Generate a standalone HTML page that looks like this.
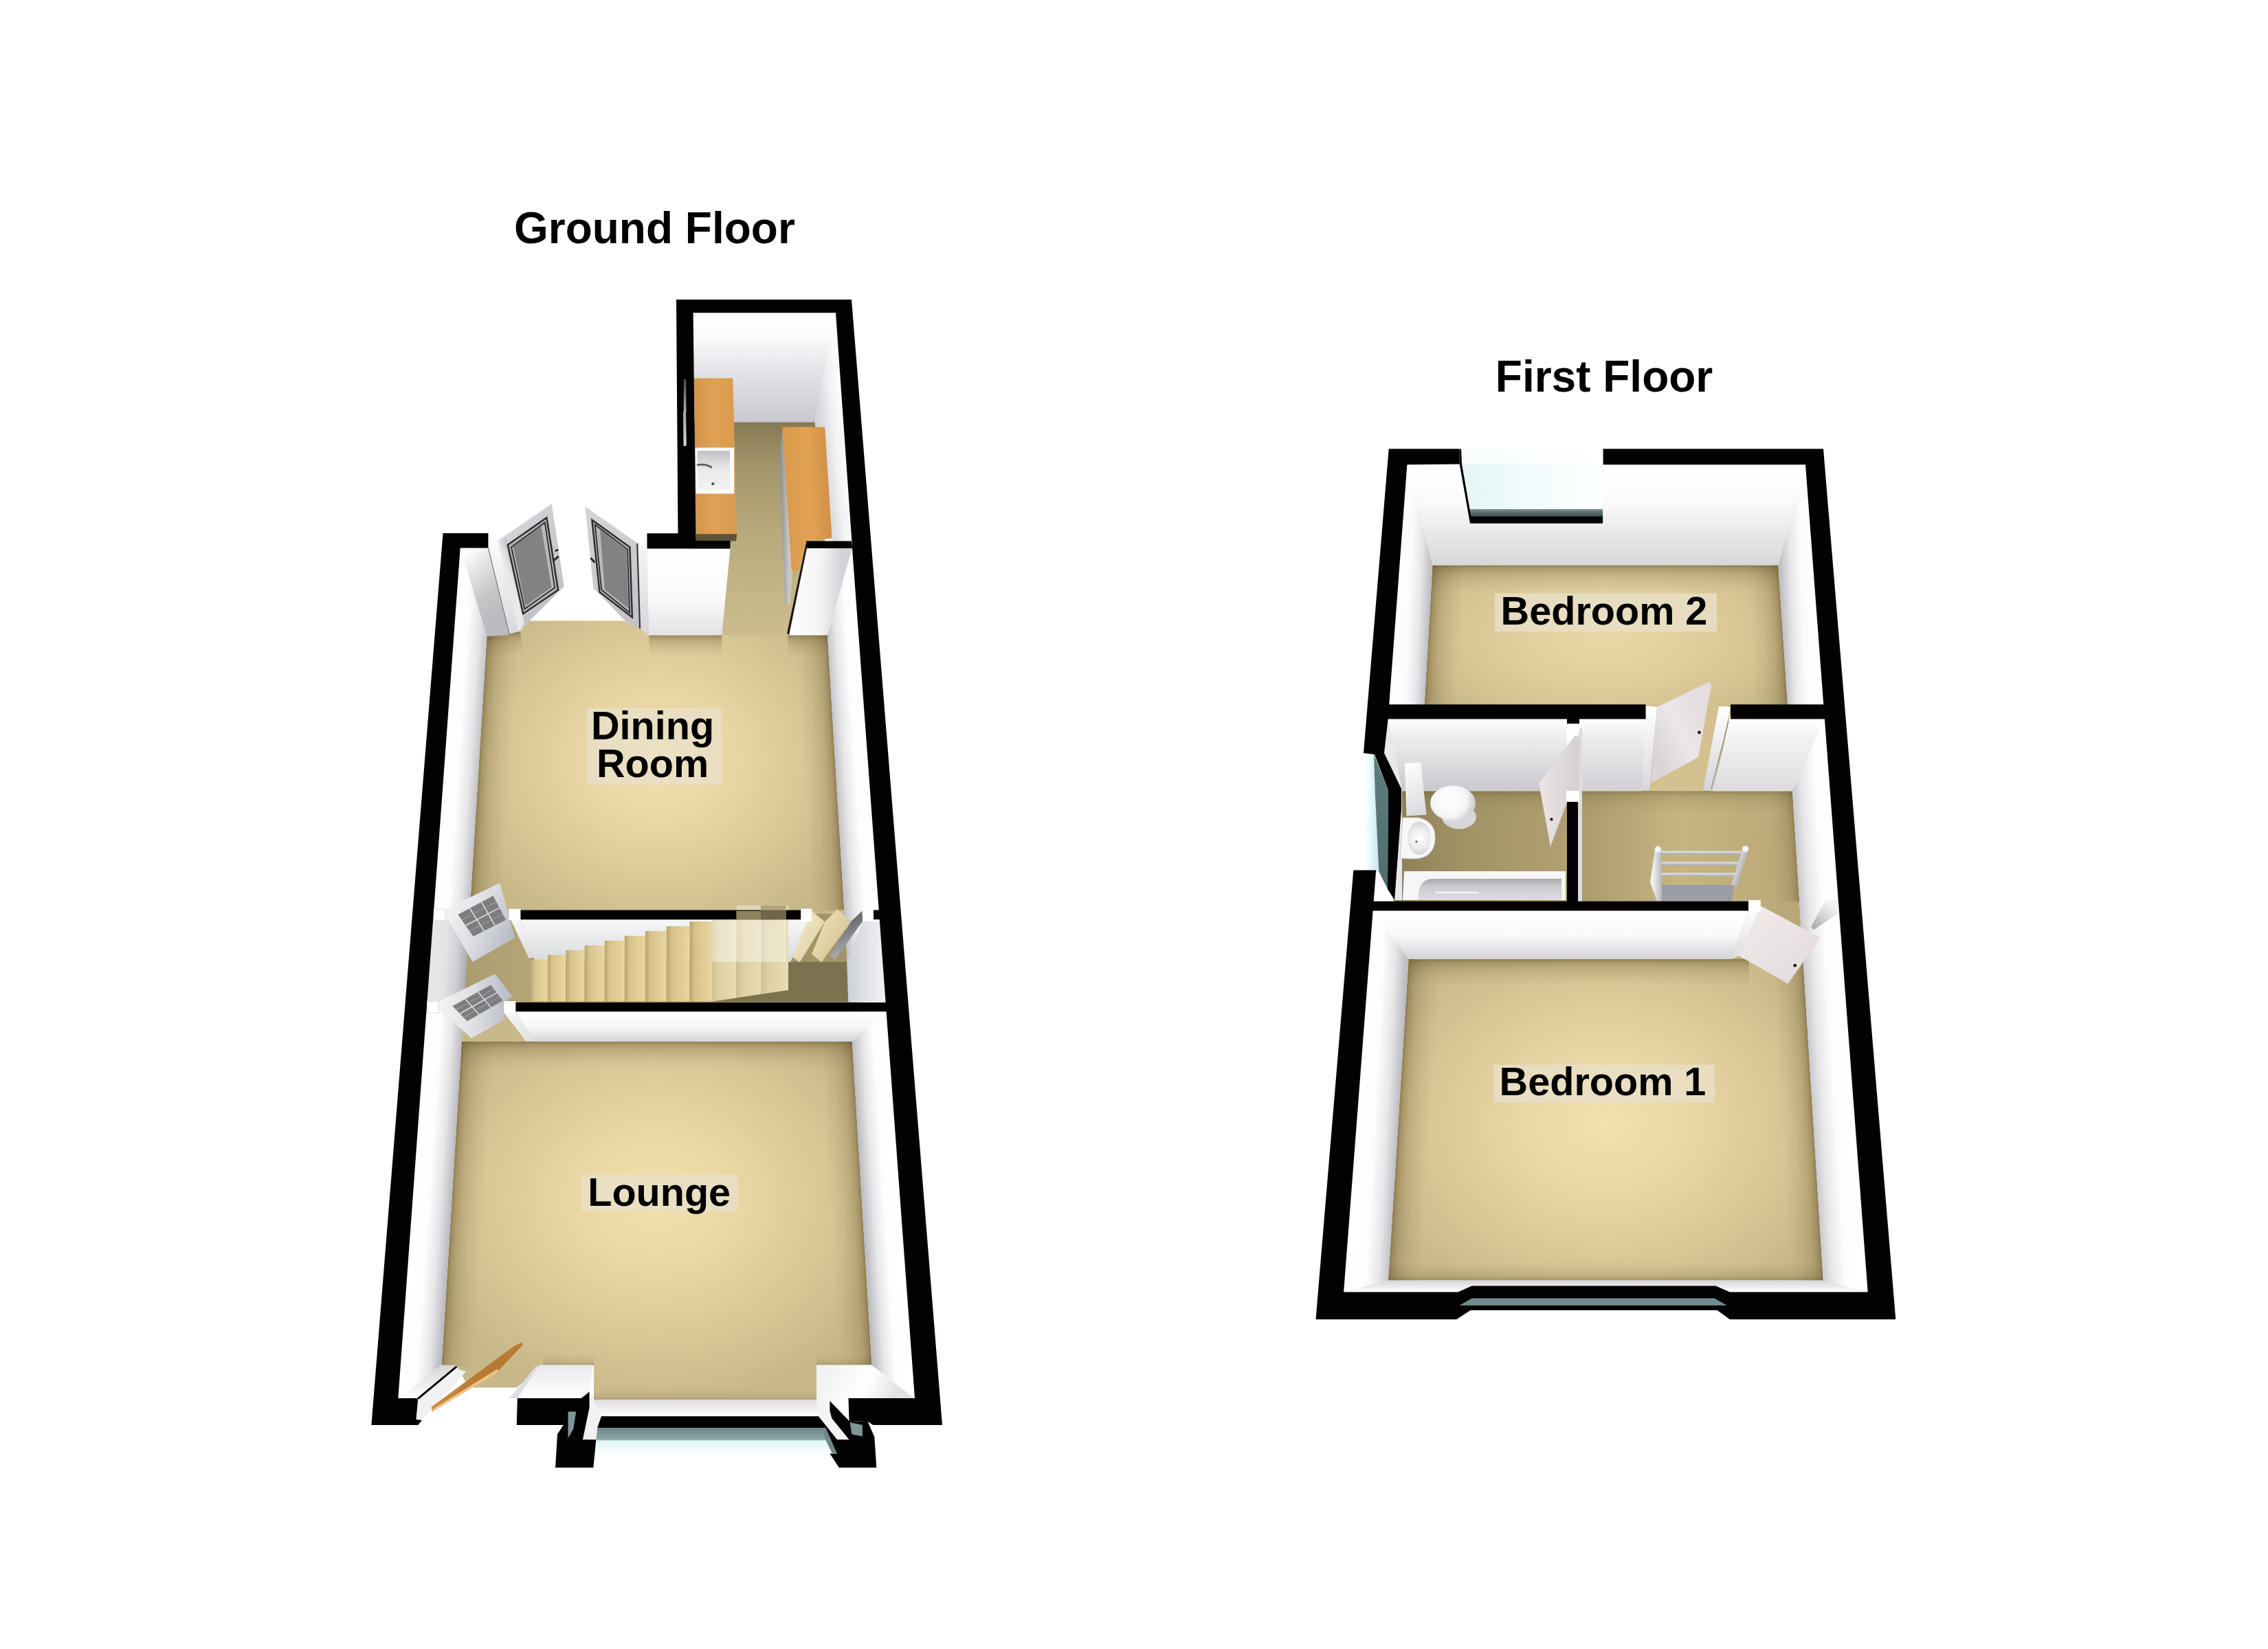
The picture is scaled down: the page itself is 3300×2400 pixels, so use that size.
<!DOCTYPE html>
<html><head><meta charset="utf-8"><title>Floor plan</title>
<style>
html,body{margin:0;padding:0;background:#fff;}
body{width:3300px;height:2400px;overflow:hidden;font-family:"Liberation Sans",sans-serif;}
svg{display:block;}
.b{font-family:"Liberation Sans",sans-serif;font-weight:bold;fill:#000;}
</style></head><body>
<svg width="3300" height="2400" viewBox="0 0 3300 2400">
<defs>
<radialGradient id="g1" gradientUnits="userSpaceOnUse" cx="958.0" cy="1105.0" r="340.0" gradientTransform="translate(958.0 1105.0) scale(0.920 0.800) translate(-958.0 -1105.0)"><stop offset="0" stop-color="#f3e0ae"/><stop offset="0.35" stop-color="#e9d6a4"/><stop offset="0.7" stop-color="#d9c695"/><stop offset="1" stop-color="#c8b788"/></radialGradient>
<radialGradient id="g2" gradientUnits="userSpaceOnUse" cx="955.0" cy="1745.0" r="400.0" gradientTransform="translate(955.0 1745.0) scale(0.900 0.750) translate(-955.0 -1745.0)"><stop offset="0" stop-color="#f3e0ae"/><stop offset="0.35" stop-color="#e9d6a4"/><stop offset="0.7" stop-color="#d9c695"/><stop offset="1" stop-color="#c8b788"/></radialGradient>
<linearGradient id="g3" gradientUnits="userSpaceOnUse" x1="1100.0" y1="614.0" x2="1100.0" y2="930.0"><stop offset="0" stop-color="#857a55"/><stop offset="0.2" stop-color="#a3956a"/><stop offset="0.5" stop-color="#b8a97c"/><stop offset="1" stop-color="#cdbd8e"/></linearGradient>
<linearGradient id="g4" gradientUnits="userSpaceOnUse" x1="708.4" y1="926.0" x2="756.3" y2="929.0"><stop offset="0" stop-color="#5a4a22" stop-opacity="0.550"/><stop offset="0.12" stop-color="#5a4a22" stop-opacity="0.341"/><stop offset="0.3" stop-color="#5a4a22" stop-opacity="0.198"/><stop offset="0.6" stop-color="#5a4a22" stop-opacity="0.083"/><stop offset="1" stop-color="#5a4a22" stop-opacity="0.000"/></linearGradient>
<linearGradient id="g5" gradientUnits="userSpaceOnUse" x1="1204.0" y1="924.5" x2="1156.1" y2="927.4"><stop offset="0" stop-color="#5a4a22" stop-opacity="0.550"/><stop offset="0.12" stop-color="#5a4a22" stop-opacity="0.341"/><stop offset="0.3" stop-color="#5a4a22" stop-opacity="0.198"/><stop offset="0.6" stop-color="#5a4a22" stop-opacity="0.083"/><stop offset="1" stop-color="#5a4a22" stop-opacity="0.000"/></linearGradient>
<linearGradient id="g6" gradientUnits="userSpaceOnUse" x1="708.4" y1="926.0" x2="713.0" y2="957.7"><stop offset="0" stop-color="#5a4a22" stop-opacity="0.550"/><stop offset="0.12" stop-color="#5a4a22" stop-opacity="0.341"/><stop offset="0.3" stop-color="#5a4a22" stop-opacity="0.198"/><stop offset="0.6" stop-color="#5a4a22" stop-opacity="0.083"/><stop offset="1" stop-color="#5a4a22" stop-opacity="0.000"/></linearGradient>
<linearGradient id="g7" gradientUnits="userSpaceOnUse" x1="944.5" y1="924.4" x2="944.5" y2="956.4"><stop offset="0" stop-color="#5a4a22" stop-opacity="0.550"/><stop offset="0.12" stop-color="#5a4a22" stop-opacity="0.341"/><stop offset="0.3" stop-color="#5a4a22" stop-opacity="0.198"/><stop offset="0.6" stop-color="#5a4a22" stop-opacity="0.083"/><stop offset="1" stop-color="#5a4a22" stop-opacity="0.000"/></linearGradient>
<linearGradient id="g8" gradientUnits="userSpaceOnUse" x1="1146.6" y1="924.5" x2="1146.6" y2="956.5"><stop offset="0" stop-color="#5a4a22" stop-opacity="0.550"/><stop offset="0.12" stop-color="#5a4a22" stop-opacity="0.341"/><stop offset="0.3" stop-color="#5a4a22" stop-opacity="0.198"/><stop offset="0.6" stop-color="#5a4a22" stop-opacity="0.083"/><stop offset="1" stop-color="#5a4a22" stop-opacity="0.000"/></linearGradient>
<linearGradient id="g9" gradientUnits="userSpaceOnUse" x1="671.8" y1="1516.0" x2="719.7" y2="1519.0"><stop offset="0" stop-color="#5a4a22" stop-opacity="0.550"/><stop offset="0.12" stop-color="#5a4a22" stop-opacity="0.341"/><stop offset="0.3" stop-color="#5a4a22" stop-opacity="0.198"/><stop offset="0.6" stop-color="#5a4a22" stop-opacity="0.083"/><stop offset="1" stop-color="#5a4a22" stop-opacity="0.000"/></linearGradient>
<linearGradient id="g10" gradientUnits="userSpaceOnUse" x1="1239.9" y1="1516.0" x2="1192.0" y2="1518.9"><stop offset="0" stop-color="#5a4a22" stop-opacity="0.550"/><stop offset="0.12" stop-color="#5a4a22" stop-opacity="0.341"/><stop offset="0.3" stop-color="#5a4a22" stop-opacity="0.198"/><stop offset="0.6" stop-color="#5a4a22" stop-opacity="0.083"/><stop offset="1" stop-color="#5a4a22" stop-opacity="0.000"/></linearGradient>
<linearGradient id="g11" gradientUnits="userSpaceOnUse" x1="670.6" y1="1516.0" x2="670.6" y2="1556.0"><stop offset="0" stop-color="#5a4a22" stop-opacity="0.550"/><stop offset="0.12" stop-color="#5a4a22" stop-opacity="0.341"/><stop offset="0.3" stop-color="#5a4a22" stop-opacity="0.198"/><stop offset="0.6" stop-color="#5a4a22" stop-opacity="0.083"/><stop offset="1" stop-color="#5a4a22" stop-opacity="0.000"/></linearGradient>
<linearGradient id="g12" gradientUnits="userSpaceOnUse" x1="790.0" y1="1987.0" x2="790.0" y2="1969.0"><stop offset="0" stop-color="#5a4a22" stop-opacity="0.300"/><stop offset="0.12" stop-color="#5a4a22" stop-opacity="0.186"/><stop offset="0.3" stop-color="#5a4a22" stop-opacity="0.108"/><stop offset="0.6" stop-color="#5a4a22" stop-opacity="0.045"/><stop offset="1" stop-color="#5a4a22" stop-opacity="0.000"/></linearGradient>
<linearGradient id="g13" gradientUnits="userSpaceOnUse" x1="1188.0" y1="1987.0" x2="1188.0" y2="1969.0"><stop offset="0" stop-color="#5a4a22" stop-opacity="0.300"/><stop offset="0.12" stop-color="#5a4a22" stop-opacity="0.186"/><stop offset="0.3" stop-color="#5a4a22" stop-opacity="0.108"/><stop offset="0.6" stop-color="#5a4a22" stop-opacity="0.045"/><stop offset="1" stop-color="#5a4a22" stop-opacity="0.000"/></linearGradient>
<linearGradient id="g14" gradientUnits="userSpaceOnUse" x1="864.0" y1="2038.0" x2="864.0" y2="2022.0"><stop offset="0" stop-color="#5a4a22" stop-opacity="0.300"/><stop offset="0.12" stop-color="#5a4a22" stop-opacity="0.186"/><stop offset="0.3" stop-color="#5a4a22" stop-opacity="0.108"/><stop offset="0.6" stop-color="#5a4a22" stop-opacity="0.045"/><stop offset="1" stop-color="#5a4a22" stop-opacity="0.000"/></linearGradient>
<linearGradient id="g15" gradientUnits="userSpaceOnUse" x1="1100.0" y1="455.0" x2="1100.0" y2="614.0"><stop offset="0" stop-color="#ffffff"/><stop offset="0.2" stop-color="#fcfcfc"/><stop offset="0.55" stop-color="#e2e2e7"/><stop offset="1" stop-color="#c8c9cf"/></linearGradient>
<linearGradient id="g16" gradientUnits="userSpaceOnUse" x1="1190.0" y1="600.0" x2="1232.0" y2="596.0"><stop offset="0" stop-color="#d4d5da"/><stop offset="0.5" stop-color="#f2f2f4"/><stop offset="1" stop-color="#ffffff"/></linearGradient>
<linearGradient id="g17" gradientUnits="userSpaceOnUse" x1="625.7" y1="1400.0" x2="679.0" y2="1403.6"><stop offset="0" stop-color="#ffffff"/><stop offset="0.4" stop-color="#fdfdfd"/><stop offset="0.72" stop-color="#e6e6e9"/><stop offset="1" stop-color="#bdbdc3"/></linearGradient>
<linearGradient id="g18" gradientUnits="userSpaceOnUse" x1="1284.3" y1="1400.0" x2="1232.9" y2="1403.4"><stop offset="0" stop-color="#ffffff"/><stop offset="0.4" stop-color="#fdfdfd"/><stop offset="0.72" stop-color="#e6e6e9"/><stop offset="1" stop-color="#bdbdc3"/></linearGradient>
<linearGradient id="g19" gradientUnits="userSpaceOnUse" x1="676.0" y1="806.0" x2="738.0" y2="880.0"><stop offset="0" stop-color="#ffffff"/><stop offset="0.3" stop-color="#e4e4e6"/><stop offset="0.7" stop-color="#c6c6c9"/><stop offset="1" stop-color="#bcbcc0"/></linearGradient>
<linearGradient id="g20" gradientUnits="userSpaceOnUse" x1="715.0" y1="790.0" x2="750.0" y2="920.0"><stop offset="0" stop-color="#fbfbfb"/><stop offset="1" stop-color="#d9d9dd"/></linearGradient>
<linearGradient id="g21" gradientUnits="userSpaceOnUse" x1="930.0" y1="800.0" x2="943.0" y2="920.0"><stop offset="0" stop-color="#f4f4f6"/><stop offset="1" stop-color="#d5d5da"/></linearGradient>
<linearGradient id="g22" gradientUnits="userSpaceOnUse" x1="1000.0" y1="798.0" x2="1000.0" y2="925.0"><stop offset="0" stop-color="#ffffff"/><stop offset="0.55" stop-color="#fbfbfc"/><stop offset="1" stop-color="#e2e2e6"/></linearGradient>
<linearGradient id="g23" gradientUnits="userSpaceOnUse" x1="1150.0" y1="860.0" x2="1225.0" y2="862.0"><stop offset="0" stop-color="#ffffff"/><stop offset="0.6" stop-color="#f3f3f5"/><stop offset="1" stop-color="#d2d2d7"/></linearGradient>
<linearGradient id="g24" gradientUnits="userSpaceOnUse" x1="1135.0" y1="700.0" x2="1148.0" y2="700.0"><stop offset="0" stop-color="#8d8d8f"/><stop offset="1" stop-color="#c9c8c6"/></linearGradient>
<linearGradient id="g25" gradientUnits="userSpaceOnUse" x1="1140.0" y1="700.0" x2="1210.0" y2="696.0"><stop offset="0" stop-color="#d99a4c"/><stop offset="0.5" stop-color="#e3a253"/><stop offset="1" stop-color="#cf8f45"/></linearGradient>
<linearGradient id="g26" gradientUnits="userSpaceOnUse" x1="1010.0" y1="700.0" x2="1070.0" y2="700.0"><stop offset="0" stop-color="#d3934a"/><stop offset="0.5" stop-color="#e2a255"/><stop offset="1" stop-color="#d89a4e"/></linearGradient>
<linearGradient id="g27" gradientUnits="userSpaceOnUse" x1="1015.0" y1="660.0" x2="1015.0" y2="715.0"><stop offset="0" stop-color="#c6c6c8"/><stop offset="0.4" stop-color="#e9e9ea"/><stop offset="1" stop-color="#f4f4f4"/></linearGradient>
<linearGradient id="g28" gradientUnits="userSpaceOnUse" x1="724.7" y1="786.7" x2="820.7" y2="853.4"><stop offset="0" stop-color="#d4d4d8"/><stop offset="1" stop-color="#c2c2c6"/></linearGradient>
<linearGradient id="g29" gradientUnits="userSpaceOnUse" x1="724.7" y1="786.7" x2="736.7" y2="782.7"><stop offset="0" stop-color="#e9e9ec"/><stop offset="1" stop-color="#bfbfc4"/></linearGradient>
<linearGradient id="g30" gradientUnits="userSpaceOnUse" x1="851.4" y1="737.3" x2="930.8" y2="916.1"><stop offset="0" stop-color="#d4d4d8"/><stop offset="1" stop-color="#c2c2c6"/></linearGradient>
<linearGradient id="g31" gradientUnits="userSpaceOnUse" x1="1232.0" y1="1420.0" x2="1288.0" y2="1420.0"><stop offset="0" stop-color="#cdd0d8"/><stop offset="1" stop-color="#f2f2f5"/></linearGradient>
<linearGradient id="g32" gradientUnits="userSpaceOnUse" x1="680.0" y1="1400.0" x2="772.0" y2="1400.0"><stop offset="0" stop-color="#ab9c70"/><stop offset="1" stop-color="#b5a678"/></linearGradient>
<linearGradient id="g33" gradientUnits="userSpaceOnUse" x1="900.0" y1="1338.0" x2="900.0" y2="1400.0"><stop offset="0" stop-color="#f7f7f8"/><stop offset="1" stop-color="#d9dade"/></linearGradient>
<linearGradient id="g34" gradientUnits="userSpaceOnUse" x1="771.4" y1="0.0" x2="797.0" y2="0.0"><stop offset="0" stop-color="#b9a470"/><stop offset="0.25" stop-color="#d8c48c"/><stop offset="1" stop-color="#e9d69e"/></linearGradient>
<linearGradient id="g35" gradientUnits="userSpaceOnUse" x1="797.0" y1="0.0" x2="823.4" y2="0.0"><stop offset="0" stop-color="#b9a470"/><stop offset="0.25" stop-color="#d8c48c"/><stop offset="1" stop-color="#e9d69e"/></linearGradient>
<linearGradient id="g36" gradientUnits="userSpaceOnUse" x1="823.4" y1="0.0" x2="850.7" y2="0.0"><stop offset="0" stop-color="#b9a470"/><stop offset="0.25" stop-color="#d8c48c"/><stop offset="1" stop-color="#e9d69e"/></linearGradient>
<linearGradient id="g37" gradientUnits="userSpaceOnUse" x1="850.7" y1="0.0" x2="879.8" y2="0.0"><stop offset="0" stop-color="#b9a470"/><stop offset="0.25" stop-color="#d8c48c"/><stop offset="1" stop-color="#e9d69e"/></linearGradient>
<linearGradient id="g38" gradientUnits="userSpaceOnUse" x1="879.8" y1="0.0" x2="908.9" y2="0.0"><stop offset="0" stop-color="#b9a470"/><stop offset="0.25" stop-color="#d8c48c"/><stop offset="1" stop-color="#e9d69e"/></linearGradient>
<linearGradient id="g39" gradientUnits="userSpaceOnUse" x1="908.9" y1="0.0" x2="938.9" y2="0.0"><stop offset="0" stop-color="#b9a470"/><stop offset="0.25" stop-color="#d8c48c"/><stop offset="1" stop-color="#e9d69e"/></linearGradient>
<linearGradient id="g40" gradientUnits="userSpaceOnUse" x1="938.9" y1="0.0" x2="969.8" y2="0.0"><stop offset="0" stop-color="#b9a470"/><stop offset="0.25" stop-color="#d8c48c"/><stop offset="1" stop-color="#e9d69e"/></linearGradient>
<linearGradient id="g41" gradientUnits="userSpaceOnUse" x1="969.8" y1="0.0" x2="1003.5" y2="0.0"><stop offset="0" stop-color="#b9a470"/><stop offset="0.25" stop-color="#d8c48c"/><stop offset="1" stop-color="#e9d69e"/></linearGradient>
<linearGradient id="g42" gradientUnits="userSpaceOnUse" x1="1003.5" y1="0.0" x2="1036.8" y2="0.0"><stop offset="0" stop-color="#b9a470"/><stop offset="0.25" stop-color="#d8c48c"/><stop offset="1" stop-color="#e9d69e"/></linearGradient>
<linearGradient id="g43" gradientUnits="userSpaceOnUse" x1="1036.8" y1="0.0" x2="1071.5" y2="0.0"><stop offset="0" stop-color="#cfc096"/><stop offset="0.25" stop-color="#ded0a4"/><stop offset="1" stop-color="#e8dcb4"/></linearGradient>
<linearGradient id="g44" gradientUnits="userSpaceOnUse" x1="1071.5" y1="0.0" x2="1107.7" y2="0.0"><stop offset="0" stop-color="#cfc096"/><stop offset="0.25" stop-color="#ded0a4"/><stop offset="1" stop-color="#e8dcb4"/></linearGradient>
<linearGradient id="g45" gradientUnits="userSpaceOnUse" x1="1107.7" y1="0.0" x2="1147.0" y2="0.0"><stop offset="0" stop-color="#cfc096"/><stop offset="0.25" stop-color="#ded0a4"/><stop offset="1" stop-color="#e8dcb4"/></linearGradient>
<linearGradient id="g46" gradientUnits="userSpaceOnUse" x1="1150.0" y1="1340.0" x2="1240.0" y2="1400.0"><stop offset="0" stop-color="#f1ead0"/><stop offset="0.5" stop-color="#e3d5a8"/><stop offset="1" stop-color="#c9b888"/></linearGradient>
<linearGradient id="g47" gradientUnits="userSpaceOnUse" x1="1240.0" y1="1340.0" x2="1262.0" y2="1400.0"><stop offset="0" stop-color="#6d6f72"/><stop offset="1" stop-color="#c7c9ce"/></linearGradient>
<linearGradient id="g48" gradientUnits="userSpaceOnUse" x1="1000.0" y1="1472.0" x2="1000.0" y2="1516.0"><stop offset="0" stop-color="#ffffff"/><stop offset="0.55" stop-color="#f6f6f7"/><stop offset="1" stop-color="#d4d4d9"/></linearGradient>
<linearGradient id="g49" gradientUnits="userSpaceOnUse" x1="740.0" y1="1330.0" x2="775.0" y2="1390.0"><stop offset="0" stop-color="#ffffff"/><stop offset="1" stop-color="#dcdce0"/></linearGradient>
<linearGradient id="g50" gradientUnits="userSpaceOnUse" x1="735.0" y1="1460.0" x2="775.0" y2="1515.0"><stop offset="0" stop-color="#ffffff"/><stop offset="1" stop-color="#dedee2"/></linearGradient>
<linearGradient id="g51" gradientUnits="userSpaceOnUse" x1="647.9" y1="1323.2" x2="749.3" y2="1364.7"><stop offset="0" stop-color="#f4f4f6"/><stop offset="0.5" stop-color="#dcdde2"/><stop offset="1" stop-color="#b4b9c4"/></linearGradient>
<linearGradient id="g52" gradientUnits="userSpaceOnUse" x1="639.1" y1="1457.2" x2="745.8" y2="1450.2"><stop offset="0" stop-color="#f4f4f6"/><stop offset="0.5" stop-color="#dcdde2"/><stop offset="1" stop-color="#b4b9c4"/></linearGradient>
<linearGradient id="g53" gradientUnits="userSpaceOnUse" x1="600.0" y1="1987.0" x2="600.0" y2="2035.0"><stop offset="0" stop-color="#d6d6da"/><stop offset="1" stop-color="#ffffff"/></linearGradient>
<linearGradient id="g54" gradientUnits="userSpaceOnUse" x1="800.0" y1="1987.0" x2="800.0" y2="2035.0"><stop offset="0" stop-color="#e9e9ec"/><stop offset="1" stop-color="#ffffff"/></linearGradient>
<linearGradient id="g55" gradientUnits="userSpaceOnUse" x1="1000.0" y1="2037.0" x2="1000.0" y2="2061.0"><stop offset="0" stop-color="#dcdce0"/><stop offset="1" stop-color="#ffffff"/></linearGradient>
<linearGradient id="g56" gradientUnits="userSpaceOnUse" x1="1200.0" y1="1987.0" x2="1300.0" y2="2035.0"><stop offset="0" stop-color="#f1f1f3"/><stop offset="0.6" stop-color="#ffffff"/><stop offset="1" stop-color="#e3e3e6"/></linearGradient>
<linearGradient id="g57" gradientUnits="userSpaceOnUse" x1="1000.0" y1="2078.0" x2="1000.0" y2="2116.0"><stop offset="0" stop-color="#6f8788"/><stop offset="0.45" stop-color="#8ba7a8"/><stop offset="0.5" stop-color="#dff5f5"/><stop offset="1" stop-color="#ffffff"/></linearGradient>
<linearGradient id="g58" gradientUnits="userSpaceOnUse" x1="995.0" y1="500.0" x2="995.0" y2="650.0"><stop offset="0" stop-color="#3a3a3c"/><stop offset="1" stop-color="#d9dadc"/></linearGradient>
<linearGradient id="g59" gradientUnits="userSpaceOnUse" x1="995.0" y1="540.0" x2="995.0" y2="610.0"><stop offset="0" stop-color="#2a2a2c"/><stop offset="1" stop-color="#c9cacc"/></linearGradient>
<linearGradient id="g60" gradientUnits="userSpaceOnUse" x1="640.0" y1="2040.0" x2="700.0" y2="2010.0"><stop offset="0" stop-color="#c98a3e"/><stop offset="1" stop-color="#b87a33"/></linearGradient>
<radialGradient id="g61" gradientUnits="userSpaceOnUse" cx="2336.0" cy="925.0" r="330.0" gradientTransform="translate(2336.0 925.0) scale(1.000 0.500) translate(-2336.0 -925.0)"><stop offset="0" stop-color="#e9d7a6"/><stop offset="0.4" stop-color="#e0ce9d"/><stop offset="0.75" stop-color="#d3c190"/><stop offset="1" stop-color="#c2b183"/></radialGradient>
<radialGradient id="g62" gradientUnits="userSpaceOnUse" cx="2336.0" cy="1635.0" r="410.0" gradientTransform="translate(2336.0 1635.0) scale(0.900 0.720) translate(-2336.0 -1635.0)"><stop offset="0" stop-color="#f3e0ae"/><stop offset="0.35" stop-color="#e9d6a4"/><stop offset="0.7" stop-color="#d9c695"/><stop offset="1" stop-color="#c8b788"/></radialGradient>
<linearGradient id="g63" gradientUnits="userSpaceOnUse" x1="2040.0" y1="1230.0" x2="2280.0" y2="1230.0"><stop offset="0" stop-color="#8f8157"/><stop offset="0.4" stop-color="#a39468"/><stop offset="1" stop-color="#b09f70"/></linearGradient>
<linearGradient id="g64" gradientUnits="userSpaceOnUse" x1="2300.0" y1="1230.0" x2="2615.0" y2="1230.0"><stop offset="0" stop-color="#ab9b6c"/><stop offset="0.45" stop-color="#c6b481"/><stop offset="1" stop-color="#b9a877"/></linearGradient>
<linearGradient id="g65" gradientUnits="userSpaceOnUse" x1="2084.4" y1="822.6" x2="2084.4" y2="862.6"><stop offset="0" stop-color="#5a4a22" stop-opacity="0.550"/><stop offset="0.12" stop-color="#5a4a22" stop-opacity="0.341"/><stop offset="0.3" stop-color="#5a4a22" stop-opacity="0.198"/><stop offset="0.6" stop-color="#5a4a22" stop-opacity="0.083"/><stop offset="1" stop-color="#5a4a22" stop-opacity="0.000"/></linearGradient>
<linearGradient id="g66" gradientUnits="userSpaceOnUse" x1="2084.4" y1="822.6" x2="2132.3" y2="825.4"><stop offset="0" stop-color="#5a4a22" stop-opacity="0.550"/><stop offset="0.12" stop-color="#5a4a22" stop-opacity="0.341"/><stop offset="0.3" stop-color="#5a4a22" stop-opacity="0.198"/><stop offset="0.6" stop-color="#5a4a22" stop-opacity="0.083"/><stop offset="1" stop-color="#5a4a22" stop-opacity="0.000"/></linearGradient>
<linearGradient id="g67" gradientUnits="userSpaceOnUse" x1="2587.4" y1="822.6" x2="2539.5" y2="825.8"><stop offset="0" stop-color="#5a4a22" stop-opacity="0.550"/><stop offset="0.12" stop-color="#5a4a22" stop-opacity="0.341"/><stop offset="0.3" stop-color="#5a4a22" stop-opacity="0.198"/><stop offset="0.6" stop-color="#5a4a22" stop-opacity="0.083"/><stop offset="1" stop-color="#5a4a22" stop-opacity="0.000"/></linearGradient>
<linearGradient id="g68" gradientUnits="userSpaceOnUse" x1="2049.5" y1="1396.0" x2="2049.5" y2="1436.0"><stop offset="0" stop-color="#5a4a22" stop-opacity="0.550"/><stop offset="0.12" stop-color="#5a4a22" stop-opacity="0.341"/><stop offset="0.3" stop-color="#5a4a22" stop-opacity="0.198"/><stop offset="0.6" stop-color="#5a4a22" stop-opacity="0.083"/><stop offset="1" stop-color="#5a4a22" stop-opacity="0.000"/></linearGradient>
<linearGradient id="g69" gradientUnits="userSpaceOnUse" x1="2049.5" y1="1396.0" x2="2097.4" y2="1399.0"><stop offset="0" stop-color="#5a4a22" stop-opacity="0.550"/><stop offset="0.12" stop-color="#5a4a22" stop-opacity="0.341"/><stop offset="0.3" stop-color="#5a4a22" stop-opacity="0.198"/><stop offset="0.6" stop-color="#5a4a22" stop-opacity="0.083"/><stop offset="1" stop-color="#5a4a22" stop-opacity="0.000"/></linearGradient>
<linearGradient id="g70" gradientUnits="userSpaceOnUse" x1="2623.7" y1="1400.0" x2="2575.8" y2="1403.0"><stop offset="0" stop-color="#5a4a22" stop-opacity="0.550"/><stop offset="0.12" stop-color="#5a4a22" stop-opacity="0.341"/><stop offset="0.3" stop-color="#5a4a22" stop-opacity="0.198"/><stop offset="0.6" stop-color="#5a4a22" stop-opacity="0.083"/><stop offset="1" stop-color="#5a4a22" stop-opacity="0.000"/></linearGradient>
<linearGradient id="g71" gradientUnits="userSpaceOnUse" x1="2020.0" y1="1863.4" x2="2020.0" y2="1835.4"><stop offset="0" stop-color="#5a4a22" stop-opacity="0.400"/><stop offset="0.12" stop-color="#5a4a22" stop-opacity="0.248"/><stop offset="0.3" stop-color="#5a4a22" stop-opacity="0.144"/><stop offset="0.6" stop-color="#5a4a22" stop-opacity="0.060"/><stop offset="1" stop-color="#5a4a22" stop-opacity="0.000"/></linearGradient>
<linearGradient id="g72" gradientUnits="userSpaceOnUse" x1="2301.0" y1="1151.5" x2="2301.0" y2="1183.5"><stop offset="0" stop-color="#5a4a22" stop-opacity="0.400"/><stop offset="0.12" stop-color="#5a4a22" stop-opacity="0.248"/><stop offset="0.3" stop-color="#5a4a22" stop-opacity="0.144"/><stop offset="0.6" stop-color="#5a4a22" stop-opacity="0.060"/><stop offset="1" stop-color="#5a4a22" stop-opacity="0.000"/></linearGradient>
<linearGradient id="g73" gradientUnits="userSpaceOnUse" x1="2608.0" y1="1151.0" x2="2572.1" y2="1153.3"><stop offset="0" stop-color="#5a4a22" stop-opacity="0.450"/><stop offset="0.12" stop-color="#5a4a22" stop-opacity="0.279"/><stop offset="0.3" stop-color="#5a4a22" stop-opacity="0.162"/><stop offset="0.6" stop-color="#5a4a22" stop-opacity="0.068"/><stop offset="1" stop-color="#5a4a22" stop-opacity="0.000"/></linearGradient>
<linearGradient id="g74" gradientUnits="userSpaceOnUse" x1="2040.0" y1="1151.5" x2="2040.0" y2="1183.5"><stop offset="0" stop-color="#5a4a22" stop-opacity="0.400"/><stop offset="0.12" stop-color="#5a4a22" stop-opacity="0.248"/><stop offset="0.3" stop-color="#5a4a22" stop-opacity="0.144"/><stop offset="0.6" stop-color="#5a4a22" stop-opacity="0.060"/><stop offset="1" stop-color="#5a4a22" stop-opacity="0.000"/></linearGradient>
<linearGradient id="g75" gradientUnits="userSpaceOnUse" x1="2300.0" y1="676.0" x2="2300.0" y2="823.0"><stop offset="0" stop-color="#ffffff"/><stop offset="0.35" stop-color="#fbfbfb"/><stop offset="1" stop-color="#d7d7db"/></linearGradient>
<linearGradient id="g76" gradientUnits="userSpaceOnUse" x1="2032.0" y1="860.0" x2="2080.0" y2="862.0"><stop offset="0" stop-color="#ffffff"/><stop offset="0.4" stop-color="#fbfbfb"/><stop offset="0.72" stop-color="#e6e6e9"/><stop offset="1" stop-color="#bfbfc5"/></linearGradient>
<linearGradient id="g77" gradientUnits="userSpaceOnUse" x1="2642.0" y1="860.0" x2="2592.0" y2="862.0"><stop offset="0" stop-color="#ffffff"/><stop offset="0.4" stop-color="#fbfbfb"/><stop offset="0.72" stop-color="#e6e6e9"/><stop offset="1" stop-color="#bfbfc5"/></linearGradient>
<linearGradient id="g78" gradientUnits="userSpaceOnUse" x1="2125.0" y1="700.0" x2="2330.0" y2="700.0"><stop offset="0" stop-color="#e4f6f6"/><stop offset="0.45" stop-color="#f0fbfb"/><stop offset="1" stop-color="#fdffff"/></linearGradient>
<linearGradient id="g79" gradientUnits="userSpaceOnUse" x1="2200.0" y1="653.0" x2="2200.0" y2="675.0"><stop offset="0" stop-color="#ffffff"/><stop offset="1" stop-color="#ffffff"/></linearGradient>
<linearGradient id="g80" gradientUnits="userSpaceOnUse" x1="2200.0" y1="741.0" x2="2200.0" y2="752.0"><stop offset="0" stop-color="#7d9192"/><stop offset="0.5" stop-color="#586b6c"/><stop offset="1" stop-color="#3c4a4a"/></linearGradient>
<linearGradient id="g81" gradientUnits="userSpaceOnUse" x1="2150.0" y1="1046.0" x2="2150.0" y2="1151.0"><stop offset="0" stop-color="#ffffff"/><stop offset="0.2" stop-color="#f1f1f3"/><stop offset="1" stop-color="#c9c9ce"/></linearGradient>
<linearGradient id="g82" gradientUnits="userSpaceOnUse" x1="2340.0" y1="1046.0" x2="2340.0" y2="1151.0"><stop offset="0" stop-color="#ffffff"/><stop offset="0.2" stop-color="#f0f0f2"/><stop offset="1" stop-color="#d0d0d5"/></linearGradient>
<linearGradient id="g83" gradientUnits="userSpaceOnUse" x1="2560.0" y1="1046.0" x2="2560.0" y2="1151.0"><stop offset="0" stop-color="#ffffff"/><stop offset="0.25" stop-color="#f3f3f5"/><stop offset="1" stop-color="#dcdce0"/></linearGradient>
<linearGradient id="g84" gradientUnits="userSpaceOnUse" x1="2690.0" y1="1500.0" x2="2625.0" y2="1504.0"><stop offset="0" stop-color="#ffffff"/><stop offset="0.4" stop-color="#fdfdfd"/><stop offset="0.72" stop-color="#e6e6e9"/><stop offset="1" stop-color="#bdbdc3"/></linearGradient>
<linearGradient id="g85" gradientUnits="userSpaceOnUse" x1="2395.0" y1="1030.0" x2="2390.0" y2="1150.0"><stop offset="0" stop-color="#ffffff"/><stop offset="1" stop-color="#d8d8dc"/></linearGradient>
<linearGradient id="g86" gradientUnits="userSpaceOnUse" x1="2505.0" y1="1030.0" x2="2480.0" y2="1150.0"><stop offset="0" stop-color="#ffffff"/><stop offset="1" stop-color="#d4d4d9"/></linearGradient>
<linearGradient id="g87" gradientUnits="userSpaceOnUse" x1="2250.0" y1="1325.0" x2="2250.0" y2="1396.0"><stop offset="0" stop-color="#ffffff"/><stop offset="0.5" stop-color="#fafafa"/><stop offset="1" stop-color="#d3d3d8"/></linearGradient>
<linearGradient id="g88" gradientUnits="userSpaceOnUse" x1="1978.0" y1="1600.0" x2="2036.0" y2="1603.0"><stop offset="0" stop-color="#ffffff"/><stop offset="0.4" stop-color="#fdfdfd"/><stop offset="0.72" stop-color="#e6e6e9"/><stop offset="1" stop-color="#bdbdc3"/></linearGradient>
<linearGradient id="g89" gradientUnits="userSpaceOnUse" x1="2300.0" y1="1863.0" x2="2300.0" y2="1881.0"><stop offset="0" stop-color="#d4d4d8"/><stop offset="1" stop-color="#ffffff"/></linearGradient>
<linearGradient id="g90" gradientUnits="userSpaceOnUse" x1="2545.0" y1="1320.0" x2="2525.0" y2="1395.0"><stop offset="0" stop-color="#ffffff"/><stop offset="1" stop-color="#dedee2"/></linearGradient>
<linearGradient id="g91" gradientUnits="userSpaceOnUse" x1="2668.0" y1="1318.0" x2="2640.0" y2="1352.0"><stop offset="0" stop-color="#f4f4f5"/><stop offset="0.45" stop-color="#d9d9dc"/><stop offset="1" stop-color="#a9a9ae"/></linearGradient>
<linearGradient id="g92" gradientUnits="userSpaceOnUse" x1="2070.0" y1="1279.0" x2="2070.0" y2="1310.0"><stop offset="0" stop-color="#a9a9ad"/><stop offset="0.35" stop-color="#c9c9cd"/><stop offset="1" stop-color="#dededf"/></linearGradient>
<linearGradient id="g93" gradientUnits="userSpaceOnUse" x1="2045.0" y1="1110.0" x2="2075.0" y2="1185.0"><stop offset="0" stop-color="#ffffff"/><stop offset="1" stop-color="#d9d9dd"/></linearGradient>
<radialGradient id="g94" gradientUnits="userSpaceOnUse" cx="2109.0" cy="1164.0" r="36.0"><stop offset="0" stop-color="#ffffff"/><stop offset="0.7" stop-color="#f5f5f6"/><stop offset="1" stop-color="#cfcfd3"/></radialGradient>
<radialGradient id="g95" gradientUnits="userSpaceOnUse" cx="2065.0" cy="1220.0" r="24.0"><stop offset="0" stop-color="#ffffff"/><stop offset="0.6" stop-color="#ececee"/><stop offset="1" stop-color="#d3d3d7"/></radialGradient>
<linearGradient id="g96" gradientUnits="userSpaceOnUse" x1="2245.0" y1="1150.0" x2="2295.0" y2="1150.0"><stop offset="0" stop-color="#e9e3e4"/><stop offset="1" stop-color="#d6d0d2"/></linearGradient>
<linearGradient id="g97" gradientUnits="userSpaceOnUse" x1="2400.0" y1="1080.0" x2="2480.0" y2="1040.0"><stop offset="0" stop-color="#d9d4d6"/><stop offset="0.5" stop-color="#ece6e8"/><stop offset="1" stop-color="#e4dee0"/></linearGradient>
<linearGradient id="g98" gradientUnits="userSpaceOnUse" x1="2540.0" y1="1330.0" x2="2620.0" y2="1420.0"><stop offset="0" stop-color="#f1ebec"/><stop offset="1" stop-color="#e4dcde"/></linearGradient>
<linearGradient id="g99" gradientUnits="userSpaceOnUse" x1="2400.0" y1="1238.6" x2="2400.0" y2="1243.4"><stop offset="0" stop-color="#e6e7ea"/><stop offset="1" stop-color="#a9acb2"/></linearGradient>
<linearGradient id="g100" gradientUnits="userSpaceOnUse" x1="2400.0" y1="1254.6" x2="2400.0" y2="1259.4"><stop offset="0" stop-color="#e6e7ea"/><stop offset="1" stop-color="#a9acb2"/></linearGradient>
<linearGradient id="g101" gradientUnits="userSpaceOnUse" x1="2400.0" y1="1270.6" x2="2400.0" y2="1275.4"><stop offset="0" stop-color="#e6e7ea"/><stop offset="1" stop-color="#a9acb2"/></linearGradient>
<linearGradient id="g102" gradientUnits="userSpaceOnUse" x1="2405.0" y1="1300.0" x2="2418.0" y2="1300.0"><stop offset="0" stop-color="#f1f1f3"/><stop offset="1" stop-color="#b5b7bc"/></linearGradient>
<linearGradient id="g103" gradientUnits="userSpaceOnUse" x1="2525.0" y1="1260.0" x2="2540.0" y2="1265.0"><stop offset="0" stop-color="#dcdde1"/><stop offset="1" stop-color="#a5a8ae"/></linearGradient>
<linearGradient id="g104" gradientUnits="userSpaceOnUse" x1="1984.0" y1="1180.0" x2="2010.0" y2="1180.0"><stop offset="0" stop-color="#ffffff"/><stop offset="0.35" stop-color="#eafafa"/><stop offset="1" stop-color="#b9e2e2"/></linearGradient>
<linearGradient id="g105" gradientUnits="userSpaceOnUse" x1="2005.0" y1="1100.0" x2="2015.0" y2="1290.0"><stop offset="0" stop-color="#5f7d7f"/><stop offset="1" stop-color="#4f6c6e"/></linearGradient>
</defs>
<rect x="0" y="0" width="3300" height="2400" fill="#ffffff"/>
<polygon points="1006.0,614.0 1186.0,614.0 1212.0,930.0 1036.0,930.0 1062.0,800.0 1008.0,800.0" fill="url(#g3)" />
<polygon points="708.4,926.0 757.0,918.4 768.9,903.5 907.8,903.5 931.6,915.4 944.5,924.4 1204.0,924.5 1228.6,1330.0 683.3,1330.0" fill="url(#g1)" />
<polygon points="683.3,1330.0 1228.6,1330.0 1236.6,1462.0 675.1,1462.0" fill="#a39468" />
<polygon points="674.6,1470.0 1237.1,1470.0 1268.5,1987.0 1188.0,1987.0 1188.0,2040.0 864.0,2040.0 864.0,1987.0 790.0,1987.0 752.0,2019.5 682.0,2019.5 664.0,1987.0 642.5,1987.0" fill="url(#g2)" />
<polygon points="708.4,926.0 683.7,1324.0 731.6,1327.0 756.3,929.0" fill="url(#g4)"/>
<polygon points="1204.0,924.5 1228.3,1324.0 1180.3,1326.9 1156.1,927.4" fill="url(#g5)"/>
<polygon points="708.4,926.0 757.0,919.0 761.6,950.7 713.0,957.7" fill="url(#g6)"/>
<polygon points="944.5,924.4 1050.3,924.4 1050.3,956.4 944.5,956.4" fill="url(#g7)"/>
<polygon points="1146.6,924.5 1204.0,924.5 1204.0,956.5 1146.6,956.5" fill="url(#g8)"/>
<polygon points="671.8,1516.0 642.5,1987.0 690.4,1990.0 719.7,1519.0" fill="url(#g9)"/>
<polygon points="1239.9,1516.0 1268.5,1987.0 1220.6,1989.9 1192.0,1518.9" fill="url(#g10)"/>
<polygon points="670.6,1516.0 1239.8,1516.0 1239.8,1556.0 670.6,1556.0" fill="url(#g11)"/>
<polygon points="790.0,1987.0 864.0,1987.0 864.0,1969.0 790.0,1969.0" fill="url(#g12)"/>
<polygon points="1188.0,1987.0 1268.5,1987.0 1268.5,1969.0 1188.0,1969.0" fill="url(#g13)"/>
<polygon points="864.0,2038.0 1188.0,2038.0 1188.0,2022.0 864.0,2022.0" fill="url(#g14)"/>
<polygon points="1008.6,455.2 1216.0,455.2 1185.5,614.5 1010.0,614.5" fill="url(#g15)" />
<polygon points="1216.0,455.2 1239.4,787.6 1212.0,790.0 1185.5,614.5" fill="url(#g16)" />
<polygon points="669.7,797.4 708.4,926.0 642.5,1987.0 579.3,2035.0" fill="url(#g17)" />
<polygon points="1240.0,798.0 1204.0,924.5 1268.5,1987.0 1331.0,2035.0" fill="url(#g18)" />
<polygon points="630.1,1340.0 682.7,1340.0 675.4,1458.0 621.4,1458.0" fill="#3c3c46" fill-opacity="0.13"/>
<polygon points="669.7,797.4 710.4,797.4 741.1,924.0 708.4,926.0" fill="url(#g19)" />
<polygon points="710.4,776.5 725.2,785.5 757.0,918.4 741.1,922.8 710.4,797.4" fill="url(#g20)" />
<line x1="710.4" y1="797.4" x2="741.1" y2="922.8" stroke="#77777c" stroke-width="1.2" />
<polygon points="927.6,789.4 941.5,798.4 944.5,924.4 931.6,915.4" fill="url(#g21)" />
<polygon points="941.5,798.4 1062.5,798.4 1050.3,924.4 944.5,924.4" fill="url(#g22)" />
<polygon points="1173.4,798.0 1240.0,798.0 1204.0,924.5 1146.6,924.5" fill="url(#g23)" />
<polygon points="1173.4,787.6 1176.1,787.6 1148.0,924.7 1145.2,921.6" fill="#1a1714" />
<polygon points="1134.2,661.9 1139.4,621.6 1152.8,833.0 1149.7,879.4 1141.9,878.4" fill="url(#g24)" />
<polygon points="1138.4,621.6 1200.2,621.6 1210.5,783.5 1173.4,787.6 1161.6,830.9 1151.8,830.9" fill="url(#g25)" />
<polygon points="1009.8,550.5 1066.2,550.5 1072.4,777.3 1014.0,777.3" fill="url(#g26)" />
<polygon points="1013.0,777.3 1072.4,777.3 1071.0,787.5 1012.5,787.5" fill="#5d5438" />
<polygon points="1011.5,651.5 1068.2,651.5 1068.2,718.6 1012.6,718.6" fill="#fbfbfb" />
<polygon points="1014.6,656.1 1062.1,656.1 1062.1,713.4 1015.3,713.4" fill="url(#g27)" />
<circle cx="1037.3" cy="704.1" r="2.2" fill="#55555a"/>
<path d="M1014.0 676.7 Q 1028.0 674.6 1035.9 680.8" stroke="#5a5a5e" stroke-width="2.6" fill="none"/>
<polygon points="724.7,786.7 802.7,733.3 820.7,853.4 769.4,904.8 754.0,919.8" fill="url(#g28)" />
<polygon points="724.7,786.7 736.7,782.7 762.7,906.8 754.0,919.8" fill="url(#g29)" />
<polygon points="738.7,793.1 795.4,753.4 812.1,858.7 761.1,893.2" fill="#b3b3b7" stroke="#2b2b2d" stroke-width="2.4" stroke-linejoin="miter"/>
<polygon points="744.0,796.3 792.8,760.5 807.1,855.3 763.3,886.3" fill="#b9b9bd" stroke="#2b2b2d" stroke-width="1.8"/>
<polygon points="746.7,795.4 787.4,766.0 802.5,854.7 764.3,881.7" fill="#828284" />
<polygon points="851.4,737.3 926.8,790.0 930.8,916.1 910.8,904.8 863.4,856.1" fill="url(#g30)" />
<polygon points="861.4,756.7 916.4,796.3 919.9,898.5 872.4,861.7" fill="#b3b3b7" stroke="#2b2b2d" stroke-width="2.4" stroke-linejoin="miter"/>
<polygon points="865.8,763.8 913.0,799.5 916.0,891.5 875.2,858.3" fill="#b9b9bd" stroke="#2b2b2d" stroke-width="1.8"/>
<polygon points="873.2,770.7 911.2,798.4 914.5,885.8 879.8,857.8" fill="#828284" />
<line x1="927.2" y1="791.0" x2="931.1" y2="915.0" stroke="#3a3a3d" stroke-width="2.2" />
<line x1="805.4" y1="816.1" x2="812.7" y2="809.6" stroke="#2a2a2c" stroke-width="3.0" />
<line x1="807.8" y1="802.0" x2="812.3" y2="799.8" stroke="#2a2a2c" stroke-width="2.6" />
<line x1="859.4" y1="812.0" x2="865.4" y2="818.7" stroke="#2a2a2c" stroke-width="3.0" />
<polygon points="1036.8,1458.0 1147.0,1441.0 1147.0,1399.9 1232.3,1399.9 1234.2,1457.9" fill="#7d7150" />
<polygon points="1232.3,1399.9 1255.2,1340.7 1280.4,1340.7 1289.4,1457.9 1234.2,1457.9" fill="url(#g31)" />
<polygon points="682.7,1340.0 772.0,1340.0 772.0,1458.0 675.4,1458.0" fill="url(#g32)" />
<polygon points="757.3,1338.3 1181.0,1338.3 1150.0,1400.0 777.6,1398.0" fill="url(#g33)" />
<polygon points="771.4,1396.4 797.0,1396.4 797.0,1457.4 771.4,1457.4" fill="url(#g34)" />
<polygon points="797.0,1390.0 823.4,1390.0 823.4,1457.4 797.0,1457.4" fill="url(#g35)" />
<polygon points="823.4,1383.0 850.7,1383.0 850.7,1457.4 823.4,1457.4" fill="url(#g36)" />
<polygon points="850.7,1376.0 879.8,1376.0 879.8,1457.4 850.7,1457.4" fill="url(#g37)" />
<polygon points="879.8,1369.0 908.9,1369.0 908.9,1457.4 879.8,1457.4" fill="url(#g38)" />
<polygon points="908.9,1362.0 938.9,1362.0 938.9,1457.4 908.9,1457.4" fill="url(#g39)" />
<polygon points="938.9,1355.0 969.8,1355.0 969.8,1457.4 938.9,1457.4" fill="url(#g40)" />
<polygon points="969.8,1348.0 1003.5,1348.0 1003.5,1457.4 969.8,1457.4" fill="url(#g41)" />
<polygon points="1003.5,1341.0 1036.8,1341.0 1036.8,1457.4 1003.5,1457.4" fill="url(#g42)" />
<polygon points="1036.8,1333.6 1071.5,1333.6 1071.5,1452.2 1036.8,1457.4" fill="url(#g43)" />
<polygon points="1071.5,1325.7 1107.7,1325.7 1107.7,1446.8 1071.5,1452.2" fill="url(#g44)" />
<polygon points="1107.7,1317.8 1147.0,1317.8 1147.0,1441.0 1107.7,1446.8" fill="url(#g45)" />
<polygon points="1071.5,1317.8 1144.0,1317.8 1144.0,1399.9 1036.8,1399.9 1036.8,1333.6 1071.5,1333.6" fill="#ffffff" fill-opacity="0.38"/>
<polygon points="1181.1,1325.7 1200.0,1341.5 1163.7,1400.6 1152.7,1392.8" fill="url(#g46)" />
<polygon points="1200.0,1341.5 1218.1,1323.4 1238.6,1340.7 1195.3,1400.6 1181.1,1388.8" fill="url(#g46)" />
<polygon points="1238.6,1340.7 1254.4,1325.7 1255.2,1340.7 1215.0,1396.7 1207.1,1390.4" fill="url(#g47)" />
<polygon points="750.2,1472.3 1289.5,1472.3 1239.8,1516.0 777.5,1516.0" fill="url(#g48)" />
<polygon points="740.5,1323.2 757.3,1323.2 757.3,1339.1 777.5,1392.9 769.6,1395.0 740.5,1332.9" fill="url(#g49)" />
<polygon points="733.5,1457.2 750.2,1457.2 750.2,1473.1 777.5,1515.4 765.2,1515.4 733.5,1474.0" fill="url(#g50)" />
<polygon points="647.9,1332.9 654.1,1330.3 692.9,1395.5 687.6,1399.9" fill="#8f9096" />
<polygon points="639.1,1468.7 645.3,1465.2 690.2,1507.5 685.8,1511.0" fill="#a5a6ac" />
<polygon points="647.9,1323.2 727.3,1285.3 749.3,1364.7 687.6,1399.9 647.9,1332.9" fill="url(#g51)" />
<polygon points="666.4,1331.1 717.6,1303.8 736.1,1339.1 688.5,1362.9" fill="#7d7d80" />
<line x1="683.5" y1="1322.0" x2="704.4" y2="1355.0" stroke="#dcdce0" stroke-width="1.6" />
<line x1="700.5" y1="1312.9" x2="720.2" y2="1347.0" stroke="#dcdce0" stroke-width="1.6" />
<line x1="671.9" y1="1339.1" x2="722.2" y2="1312.6" stroke="#a9a9ad" stroke-width="0.9" />
<line x1="677.5" y1="1347.0" x2="726.8" y2="1321.4" stroke="#a9a9ad" stroke-width="0.9" />
<line x1="683.0" y1="1355.0" x2="731.5" y2="1330.3" stroke="#a9a9ad" stroke-width="0.9" />
<line x1="677.5" y1="1347.0" x2="726.8" y2="1321.4" stroke="#dcdce0" stroke-width="1.6" />
<polygon points="639.1,1457.2 720.2,1417.6 745.8,1450.2 733.5,1458.1 733.5,1484.6 685.8,1511.0 639.1,1468.7" fill="url(#g52)" />
<polygon points="658.5,1464.3 714.1,1433.4 731.7,1456.4 679.7,1486.3" fill="#7d7d80" />
<line x1="677.0" y1="1454.0" x2="697.0" y2="1476.4" stroke="#dcdce0" stroke-width="1.6" />
<line x1="695.5" y1="1443.7" x2="714.4" y2="1466.4" stroke="#dcdce0" stroke-width="1.6" />
<line x1="663.8" y1="1469.8" x2="718.5" y2="1439.2" stroke="#a9a9ad" stroke-width="0.9" />
<line x1="669.1" y1="1475.3" x2="722.9" y2="1444.9" stroke="#a9a9ad" stroke-width="0.9" />
<line x1="674.4" y1="1480.8" x2="727.3" y2="1450.6" stroke="#a9a9ad" stroke-width="0.9" />
<line x1="669.1" y1="1475.3" x2="722.9" y2="1444.9" stroke="#dcdce0" stroke-width="1.6" />
<polygon points="642.2,1986.6 664.5,1987.5 608.3,2035.5 579.2,2035.5" fill="url(#g53)" />
<polygon points="665.5,1992.4 678.1,1996.3 626.7,2052.5 615.1,2067.1 605.4,2066.1 608.3,2036.0" fill="#f1f1f3" />
<line x1="608.3" y1="2035.5" x2="664.5" y2="1988.9" stroke="#050303" stroke-width="3.0" />
<polygon points="780.0,1988.5 786.2,1986.6 752.8,2035.1 741.2,2035.1" fill="#dcdce2" />
<polygon points="785.8,1986.6 862.4,1986.6 858.5,2025.4 845.9,2035.1 752.8,2035.1" fill="url(#g54)" />
<polygon points="862.4,2037.0 1188.0,2037.0 1190.9,2061.3 875.0,2061.3" fill="url(#g55)" />
<polygon points="862.4,2025.4 862.4,2038.0 875.0,2061.3 867.3,2095.2 847.9,2095.2 857.6,2048.6" fill="#f1f1f4" />
<polygon points="1188.0,1986.6 1267.5,1986.6 1330.6,2035.1 1234.5,2035.1 1208.3,2038.9 1188.0,2037.0" fill="url(#g56)" />
<polygon points="1188.0,2037.0 1208.3,2038.9 1210.3,2064.2 1235.5,2091.3 1235.5,2095.2 1218.0,2095.2 1190.9,2061.3" fill="#f4f4f6" />
<polygon points="869.2,2078.1 1192.8,2078.1 1210.3,2114.6 1218.0,2115.6 865.3,2115.6" fill="url(#g57)" />
<polygon points="984.0,436.0 1239.0,436.0 1371.0,2074.0 1270.4,2074.0 1262.6,2069.0 1235.5,2068.0 1234.5,2035.1 1331.0,2035.0 1240.0,798.0 1240.0,787.6 1173.4,787.6 1173.4,798.0 1240.0,798.0 1239.4,787.6 1216.0,455.2 1008.6,455.2 1012.5,787.0 1062.5,787.0 1062.5,798.4 941.5,798.4 941.5,776.3 986.5,776.3" fill="#030101" />
<polygon points="994.0,600.0 998.1,600.0 998.8,648.5 994.6,649.5" fill="url(#g58)" />
<polygon points="994.8,551.7 998.4,551.7 998.4,601.0 994.8,601.0" fill="url(#g59)" />
<polygon points="644.5,776.0 710.4,776.0 710.4,797.4 669.7,797.4 579.3,2035.0 608.3,2035.1 605.4,2066.1 614.1,2067.1 608.3,2074.0 540.4,2074.0" fill="#030101" />
<rect x="757.3" y="1324.6" width="408.0" height="13.7" fill="#030101" />
<rect x="740.5" y="1322.8" width="16.8" height="16.2" fill="#ffffff" />
<rect x="1165.3" y="1322.6" width="15.7" height="18.1" fill="#ffffff" />
<rect x="1071.3" y="1325.8" width="35.7" height="12.5" fill="#b7a777" fill-opacity="0.78"/>
<rect x="1107.0" y="1317.9" width="37.0" height="20.4" fill="#9a8c64" fill-opacity="0.72"/>
<rect x="1255.2" y="1322.6" width="15.8" height="18.1" fill="#ffffff" />
<polygon points="1271.0,1324.6 1279.7,1324.6 1280.7,1338.3 1271.0,1338.3" fill="#030101" />
<rect x="631.2" y="1323.2" width="16.7" height="16.8" fill="#ffffff" stroke="#d0d0d4" stroke-width="0.8"/>
<rect x="621.5" y="1457.2" width="16.7" height="16.8" fill="#ffffff" stroke="#d0d0d4" stroke-width="0.8"/>
<polygon points="750.2,1459.0 1289.6,1459.0 1290.6,1472.3 750.2,1472.3" fill="#030101" />
<rect x="733.5" y="1457.2" width="16.7" height="16.8" fill="#ffffff" />
<polygon points="752.8,2035.1 845.9,2035.1 857.6,2025.4 857.6,2048.6 847.9,2095.2 867.3,2095.2 863.4,2135.9 808.1,2135.9 811.0,2087.4 819.7,2073.9 751.8,2073.9" fill="#030101" />
<polygon points="875.0,2061.3 1190.9,2061.3 1218.0,2095.2 1235.5,2095.2 1210.3,2064.2 1207.4,2053.5 1207.4,2038.9 1235.5,2068.0 1262.6,2069.0 1272.3,2091.3 1275.3,2135.9 1220.9,2135.9 1207.4,2115.6 1218.0,2115.6 1192.8,2078.1 869.2,2078.1" fill="#030101" />
<polygon points="826.5,2054.5 838.2,2054.5 834.3,2079.7 826.5,2093.3" fill="#7f9698" />
<polygon points="1236.5,2070.0 1254.9,2073.9 1254.9,2090.4 1239.4,2087.4" fill="#7f9698" />
<polygon points="1192.8,2078.1 1210.3,2114.6 1218.0,2115.6 1201.5,2078.1" fill="#6f8788" />
<polygon points="627.7,2047.7 748.9,1958.4 759.6,1954.0 760.6,1957.8 723.7,1996.3 628.6,2054.5" fill="url(#g60)" />
<polygon points="628.6,2051.6 723.7,1992.4 725.6,1996.6 629.0,2054.9" fill="#f0c585" />
<text x="952.4" y="354" font-size="64" text-anchor="middle" class="b">Ground Floor</text>
<rect x="853.6" y="1031.0" width="196.4" height="110.7" fill="#e9e0c8" fill-opacity="0.80"/>
<text x="949.6" y="1075.6" font-size="57.6" text-anchor="middle" class="b">Dining</text>
<text x="949.6" y="1131.4" font-size="57.6" text-anchor="middle" class="b">Room</text>
<rect x="846.0" y="1709.3" width="227.0" height="53.6" fill="#e9e0c8" fill-opacity="0.80"/>
<text x="959.2" y="1754.6" font-size="57.6" text-anchor="middle" class="b">Lounge</text>
<polygon points="2084.4,822.6 2587.4,822.6 2601.0,1026.0 2072.6,1026.0" fill="url(#g61)" />
<polygon points="2388.0,1026.0 2520.0,1026.0 2495.0,1153.0 2385.0,1153.0" fill="#d3c190" />
<polygon points="2038.0,1151.0 2281.0,1151.0 2281.0,1312.0 2028.0,1312.0" fill="url(#g63)" />
<polygon points="2298.0,1151.0 2608.0,1151.0 2623.7,1400.0 2515.0,1400.0 2545.0,1312.0 2296.0,1312.0" fill="url(#g64)" />
<polygon points="2049.5,1396.0 2519.0,1396.0 2623.4,1396.0 2652.8,1863.4 2020.0,1863.4" fill="url(#g62)" />
<polygon points="2084.4,822.6 2587.4,822.6 2587.4,862.6 2084.4,862.6" fill="url(#g65)"/>
<polygon points="2084.4,822.6 2072.6,1026.0 2120.5,1028.8 2132.3,825.4" fill="url(#g66)"/>
<polygon points="2587.4,822.6 2601.0,1026.0 2553.1,1029.2 2539.5,825.8" fill="url(#g67)"/>
<polygon points="2049.5,1396.0 2545.0,1396.0 2545.0,1436.0 2049.5,1436.0" fill="url(#g68)"/>
<polygon points="2049.5,1396.0 2020.0,1863.4 2067.9,1866.4 2097.4,1399.0" fill="url(#g69)"/>
<polygon points="2623.7,1400.0 2652.8,1863.4 2604.9,1866.4 2575.8,1403.0" fill="url(#g70)"/>
<polygon points="2020.0,1863.4 2652.8,1863.4 2652.8,1835.4 2020.0,1835.4" fill="url(#g71)"/>
<polygon points="2301.0,1151.5 2608.0,1151.5 2608.0,1183.5 2301.0,1183.5" fill="url(#g72)"/>
<polygon points="2608.0,1151.0 2618.1,1312.0 2582.2,1314.3 2572.1,1153.3" fill="url(#g73)"/>
<polygon points="2040.0,1151.5 2280.0,1151.5 2280.0,1183.5 2040.0,1183.5" fill="url(#g74)"/>
<polygon points="2047.4,676.3 2627.0,676.3 2587.4,822.6 2084.4,822.6" fill="url(#g75)" />
<polygon points="2047.4,676.3 2084.4,822.6 2072.6,1026.0 2020.6,1026.0" fill="url(#g76)" />
<polygon points="2627.0,676.3 2587.4,822.6 2601.0,1026.0 2653.3,1026.0" fill="url(#g77)" />
<polygon points="2123.5,653.5 2332.1,653.5 2332.1,742.0 2139.6,742.0" fill="url(#g78)" />
<polygon points="2123.5,653.5 2332.1,653.5 2332.1,674.4 2126.9,674.4" fill="url(#g79)" fill-opacity="0.7"/>
<polygon points="2138.4,740.9 2332.1,740.9 2332.1,752.1 2139.9,752.1" fill="url(#g80)" />
<polygon points="2123.5,653.5 2126.1,653.5 2126.9,674.4 2140.4,751.8 2332.1,751.8 2332.1,761.7 2139.0,761.7 2123.5,674.4" fill="#030101" />
<polygon points="2019.6,1046.4 2280.0,1046.4 2280.0,1151.5 2040.0,1151.5" fill="url(#g81)" />
<polygon points="2019.6,1047.0 2040.0,1151.0 2040.0,1310.0 2029.0,1310.0 2039.0,1176.0 2039.0,1148.0 2014.0,1096.0" fill="#e9e9ec" />
<polygon points="2298.0,1046.4 2394.6,1046.4 2388.0,1151.5 2301.0,1151.5" fill="url(#g82)" />
<polygon points="2518.0,1046.4 2654.9,1046.4 2608.0,1151.5 2492.0,1151.5" fill="url(#g83)" />
<polygon points="2654.9,1046.4 2608.0,1151.0 2652.8,1863.4 2717.7,1880.5" fill="url(#g84)" />
<polygon points="2296.0,1060.0 2302.0,1060.0 2302.0,1312.0 2296.0,1312.0" fill="#dcdce0" />
<polygon points="2394.6,1027.0 2411.0,1029.0 2400.0,1150.0 2388.0,1150.0" fill="url(#g85)" />
<polygon points="2501.0,1028.0 2518.0,1029.0 2492.0,1150.0 2478.0,1150.0" fill="url(#g86)" />
<line x1="2515.0" y1="1050.0" x2="2490.0" y2="1148.0" stroke="#8a8a90" stroke-width="1.3" />
<polygon points="1997.6,1325.5 2544.0,1325.5 2518.6,1396.0 2049.5,1396.0" fill="url(#g87)" />
<polygon points="1997.6,1325.5 2049.5,1396.0 2020.0,1863.4 1955.1,1880.5" fill="url(#g88)" />
<polygon points="2020.0,1863.4 2652.8,1863.4 2717.7,1880.5 1955.1,1880.5" fill="url(#g89)" />
<polygon points="2544.0,1310.2 2561.5,1310.2 2561.5,1318.2 2531.7,1391.0 2518.6,1396.1 2544.0,1325.5" fill="url(#g90)" />
<polygon points="2655.4,1310.2 2674.3,1310.2 2674.3,1329.8 2639.4,1353.1 2635.0,1349.5" fill="url(#g91)" />
<polygon points="2043.0,1268.0 2278.0,1268.0 2278.0,1310.0 2041.0,1310.0" fill="#f6f6f7" />
<path d="M2084.0 1279.0 L2272.0 1279.0 L2272.0 1310.0 L2064.0 1310.0 Q 2062.0 1280.0 2084.0 1279.0 Z" fill="url(#g92)"/>
<path d="M2088.0 1299.0 L2152.0 1299.0" stroke="#efeff0" stroke-width="3" fill="none"/>
<polygon points="2044.0,1111.0 2067.0,1109.4 2075.6,1186.0 2046.4,1187.6" fill="url(#g93)" />
<ellipse cx="2123.0" cy="1189.0" rx="25" ry="17.5" fill="#d7d7db"/>
<ellipse cx="2114.0" cy="1169.0" rx="33" ry="25.5" fill="url(#g94)"/>
<path d="M2041.0 1190.0 L2064.0 1190.0 Q 2090.0 1196.0 2088.0 1222.0 Q 2086.0 1250.0 2056.0 1250.0 L2037.0 1249.0 Z" fill="#f7f7f8" stroke="#c9c9cd" stroke-width="1"/>
<ellipse cx="2065.0" cy="1220.0" rx="17" ry="24" fill="url(#g95)"/>
<circle cx="2061.0" cy="1225.0" r="1.8" fill="#77777b"/>
<polygon points="2239.0,1140.0 2292.0,1070.0 2298.0,1074.0 2298.0,1162.0 2280.0,1168.0 2256.0,1232.0" fill="url(#g96)" />
<circle cx="2257.4" cy="1192.4" r="2.2" fill="#222"/>
<polygon points="2411.0,1029.0 2488.0,992.0 2490.0,998.0 2471.0,1102.0 2402.0,1140.0" fill="url(#g97)" />
<circle cx="2472.4" cy="1066.0" r="2.4" fill="#1c1c1c"/>
<polygon points="2561.5,1318.2 2648.8,1364.8 2601.5,1431.7 2530.9,1391.7" fill="url(#g98)" />
<circle cx="2611.7" cy="1405.2" r="2.4" fill="#1c1c1c"/>
<polygon points="2418.0,1288.0 2523.0,1288.0 2520.0,1312.0 2416.0,1312.0" fill="#9a9da3" />
<polygon points="2413.0,1238.6 2536.0,1238.6 2535.2,1243.4 2413.6,1243.4" fill="url(#g99)" />
<polygon points="2413.0,1254.6 2530.4,1254.6 2529.6,1259.4 2413.6,1259.4" fill="url(#g100)" />
<polygon points="2413.0,1270.6 2524.8,1270.6 2524.0,1275.4 2413.6,1275.4" fill="url(#g101)" />
<polygon points="2408.0,1237.0 2417.0,1237.0 2418.0,1312.0 2411.0,1312.0 2401.0,1284.0" fill="url(#g102)" />
<polygon points="2535.0,1237.0 2544.0,1237.0 2527.0,1290.0 2519.0,1288.0" fill="url(#g103)" />
<circle cx="2412.4" cy="1236.0" r="4.6" fill="#f4f4f6"/>
<circle cx="2539.6" cy="1235.6" r="4.6" fill="#f4f4f6"/>
<polygon points="1984.0,1096.0 1999.0,1097.6 2000.6,1150.0 2006.8,1269.0 1986.0,1266.4" fill="url(#g104)" />
<polygon points="1999.0,1097.6 2020.0,1150.0 2019.0,1294.0 2006.4,1268.4 2000.6,1150.0" fill="url(#g105)" />
<polygon points="2020.7,653.3 2123.5,653.3 2123.5,675.5 2047.4,676.3 2019.6,1047.0 2014.0,1096.0 2039.0,1148.0 2039.0,1176.0 2029.0,1310.0 2019.0,1294.0 2020.0,1150.0 2000.0,1098.0 1984.0,1096.0" fill="#030101" />
<polygon points="2332.6,653.3 2653.0,653.3 2758.3,1920.2 2516.9,1920.2 2498.7,1906.9 2139.6,1906.9 2119.4,1920.2 1914.5,1920.2 1969.3,1266.4 2002.2,1266.4 1955.1,1880.5 2121.4,1880.5 2141.7,1871.6 2496.6,1871.6 2516.9,1880.5 2717.7,1880.5 2627.0,676.3 2332.6,676.3" fill="#030101" />
<polygon points="2141.7,1889.4 2494.6,1889.4 2512.9,1900.0 2123.4,1900.0" fill="#6f8c8e" />
<polygon points="2019.7,1025.2 2394.6,1025.2 2394.6,1046.4 2018.0,1046.4" fill="#030101" />
<polygon points="2518.0,1025.2 2654.3,1025.2 2655.9,1046.4 2518.0,1046.4" fill="#030101" />
<polygon points="1997.7,1311.7 2544.0,1311.7 2544.0,1325.5 1996.6,1325.5" fill="#030101" />
<rect x="2544.0" y="1310.2" width="17.5" height="15.8" fill="#ffffff" />
<rect x="2280.0" y="1167.0" width="16.0" height="145.0" fill="#030101" />
<rect x="2279.0" y="1151.0" width="19.0" height="16.0" fill="#ffffff" />
<rect x="2280.0" y="1046.0" width="18.0" height="7.5" fill="#030101" />
<rect x="2280.0" y="1053.5" width="18.0" height="14.5" fill="#ffffff" />
<text x="2334" y="570" font-size="64" text-anchor="middle" class="b">First Floor</text>
<rect x="2175.0" y="863.6" width="323.0" height="55.8" fill="#e9e0c8" fill-opacity="0.80"/>
<text x="2334.0" y="908.6" font-size="57.6" text-anchor="middle" class="b">Bedroom 2</text>
<rect x="2173.1" y="1549.6" width="321.8" height="55.2" fill="#e9e0c8" fill-opacity="0.80"/>
<text x="2332.0" y="1594.3" font-size="57.6" text-anchor="middle" class="b">Bedroom 1</text>
</svg>
</body></html>
